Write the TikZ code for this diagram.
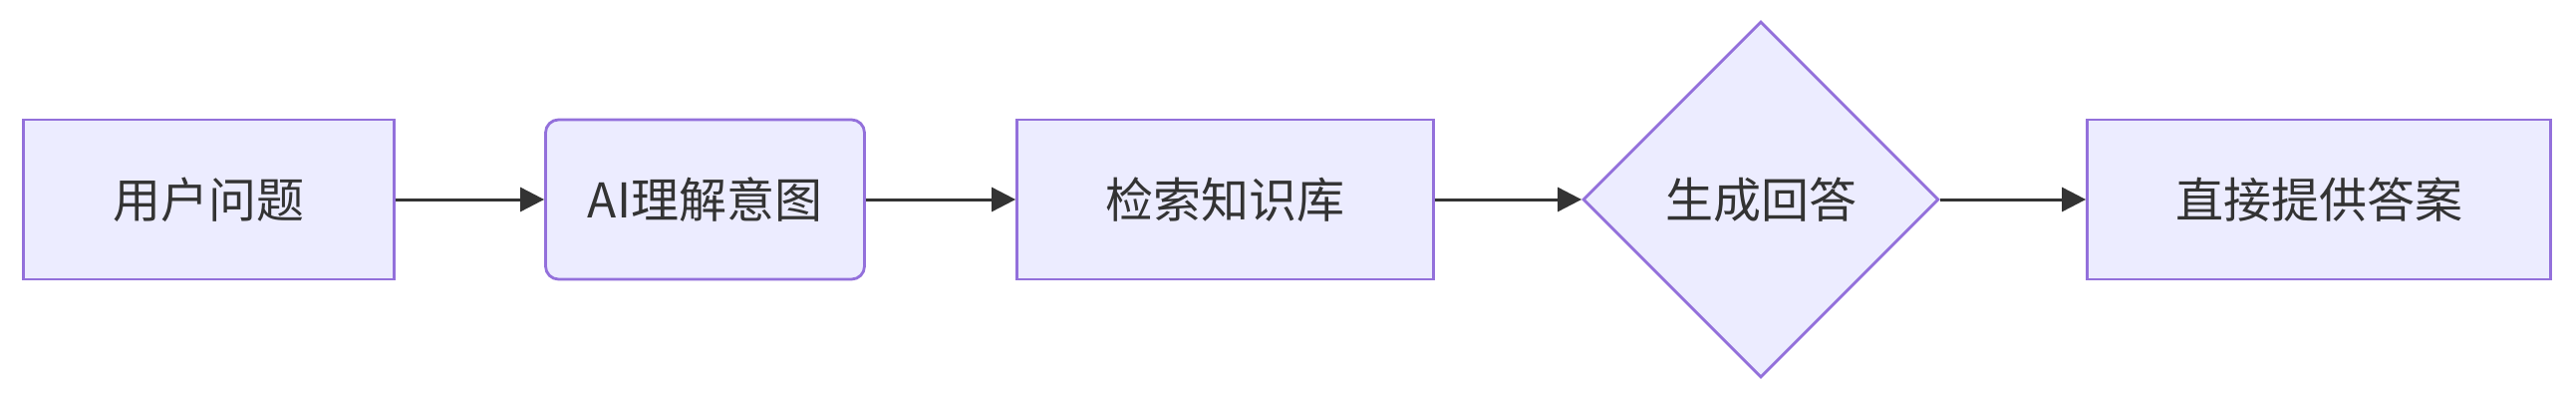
\documentclass[tikz,border=0pt]{standalone}
\usepackage{fontspec}
\newfontfamily\cjk{Noto Sans CJK SC}
\usetikzlibrary{shapes.geometric,arrows.meta,positioning}
\definecolor{boxfill}{HTML}{ECECFF}
\definecolor{boxline}{HTML}{9370DB}
\definecolor{ink}{HTML}{333333}
\tikzset{
  stepbox/.style={draw=boxline,fill=boxfill,line width=1.4pt,minimum height=80pt,
    inner sep=0pt,text=ink,font=\cjk\fontsize{24}{28}\selectfont},
  flow/.style={draw=ink,line width=1.5pt,-{Triangle[length=12pt,width=12pt]}}
}
\begin{document}
\begin{tikzpicture}[x=0.5pt,y=-0.5pt]
\useasboundingbox (0,0) rectangle (2585,401);
% steps of the answer pipeline
\node[stepbox,minimum width=186pt] (question) at (209.5,200) {用户问题};
\node[stepbox,minimum width=160pt,rounded corners=6.5pt] (intent) at (707.5,200) {AI理解意图};
\node[stepbox,minimum width=209pt] (search) at (1229.5,200) {检索知识库};
\node[stepbox,diamond,aspect=1,minimum width=178.5pt,minimum height=178.5pt] (generate) at (1767,200) {生成回答};
\node[stepbox,minimum width=232.5pt] (answer) at (2327,200) {直接提供答案};
% connectors
\foreach \a/\b in {question/intent,intent/search,search/generate,generate/answer}
    \draw[flow] (\a) -- (\b);
\end{tikzpicture}
\end{document}
